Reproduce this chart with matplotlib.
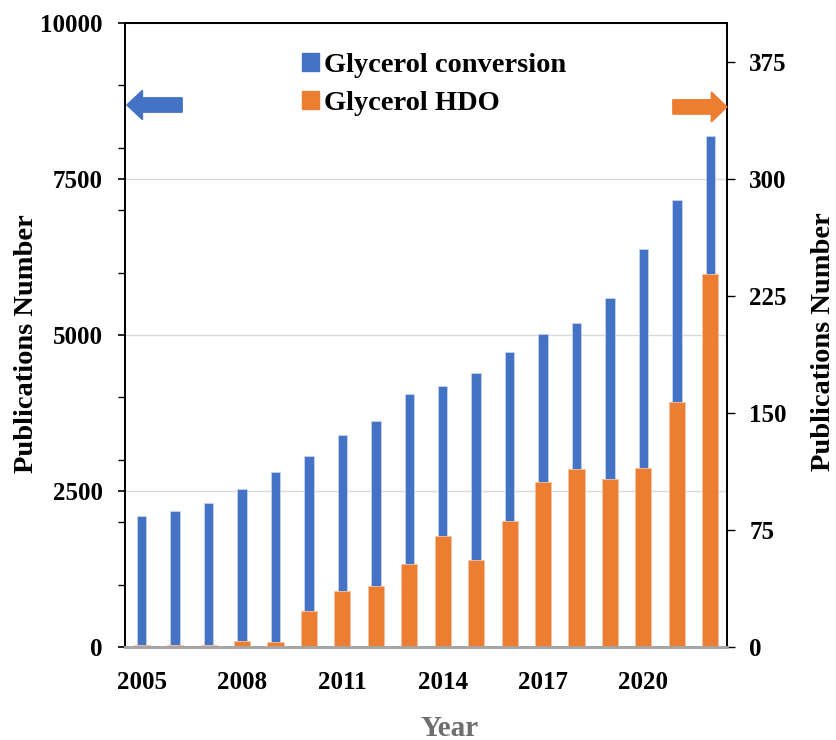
import numpy as np
import matplotlib
matplotlib.use('Agg')
import matplotlib.pyplot as plt
import matplotlib.patches as mpatches
from matplotlib.ticker import MultipleLocator

plt.rcParams['font.family'] = 'Liberation Serif'
plt.rcParams['font.weight'] = 'bold'

years = list(range(2005, 2023))
# publications per year, left axis
conversion = [2100, 2180, 2310, 2530, 2800, 3060, 3400, 3620, 4050, 4180,
              4390, 4730, 5020, 5190, 5590, 6380, 7160, 8190]
# publications per year, right axis
hdo = [1, 1, 1, 4, 3, 23, 36, 39, 53, 71,
       56, 81, 106, 114, 108, 115, 157, 239]
left_ticks = [0, 2500, 5000, 7500, 10000]
right_ticks = [0, 75, 150, 225, 300, 375]
xtick_years = [2005, 2008, 2011, 2014, 2017, 2020]

blue = '#4472C4'
orange = '#ED7D31'

fig = plt.figure(figsize=(8.37, 7.4), dpi=100)
ax = fig.add_axes([125/837, 93/740, 602/837, 624/740])
ax2 = ax.twinx()

ax.bar(years, conversion, width=0.28, color=blue, edgecolor='#c5d3ee', linewidth=0.6, zorder=2)
ax2.bar(years, hdo, width=0.48, color=orange, edgecolor='#f6c4a3', linewidth=0.6, zorder=2)

ax.set_xlim(2004.5, 2022.5)
ax.set_ylim(0, 10000)
ax2.set_ylim(0, 400)

ax.set_yticks(left_ticks)
ax.yaxis.set_minor_locator(MultipleLocator(1000))
ax.grid(axis='y', color='#d9d9d9', linewidth=1.0, zorder=0)
ax.set_axisbelow(True)
ax2.set_yticks(right_ticks)

ax.set_xticks(xtick_years)
ax.tick_params(axis='x', length=0, pad=17, labelsize=18)
ax.tick_params(axis='y', which='major', direction='out', length=5, width=1.2, pad=11, labelsize=18)
ax.tick_params(axis='y', which='minor', direction='out', length=5, width=1.0)
ax2.tick_params(axis='y', direction='out', length=6, width=1.0, pad=10, labelsize=18)

for a in (ax, ax2):
    for s in ('left', 'right', 'top'):
        a.spines[s].set_color('black')
        a.spines[s].set_linewidth(1.3)
    a.spines['bottom'].set_color('#a6a6a6')
    a.spines['bottom'].set_linewidth(2.0)

ax.set_ylabel('Publications Number', fontsize=20.5, fontweight='bold')
ax.yaxis.set_label_coords(-86/602, 0.486)
ax2.set_ylabel('Publications Number', fontsize=20.5, fontweight='bold')
ax2.yaxis.set_label_coords(1 + 84/602, 0.489)
fig.text(450/837, 1 - 728/740, 'Year', fontsize=21, fontweight='bold', color='#6e6e6e',
         ha='center', va='center')

handles = [mpatches.Patch(color=blue, label='Glycerol conversion'),
           mpatches.Patch(color=orange, label='Glycerol HDO')]
ax.legend(handles=handles, loc='upper left', bbox_to_anchor=(0.252, 0.993), frameon=False,
          prop={'family': 'Liberation Serif', 'weight': 'bold', 'size': 20.5},
          handlelength=0.6, handleheight=0.6, handletextpad=0.15, labelspacing=0.45)

# arrows pointing at each series' axis
ax2.add_patch(mpatches.FancyArrow(0.095, 0.8686, -0.066, 0, width=0.023, head_width=0.047,
                                  head_length=0.026, length_includes_head=False,
                                  color=blue, transform=ax.transAxes, clip_on=False, zorder=5))
ax2.add_patch(mpatches.FancyArrow(0.91, 0.8655, 0.064, 0, width=0.023, head_width=0.048,
                                  head_length=0.026, length_includes_head=False,
                                  color=orange, transform=ax.transAxes, clip_on=False, zorder=5))

fig.savefig('out.png', dpi=100)
